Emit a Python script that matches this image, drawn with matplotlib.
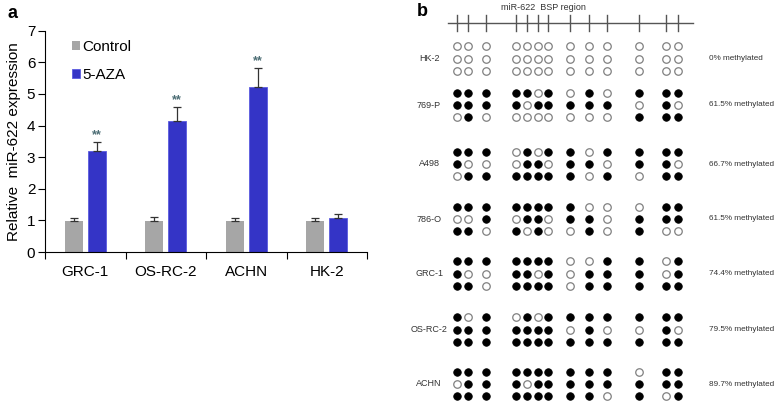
import numpy as np
import matplotlib
matplotlib.use("Agg")
import matplotlib.pyplot as plt

plt.rcParams['font.family'] = ['Liberation Sans', 'DejaVu Sans']

# ---- panel a data ----
cell_lines = ['GRC-1', 'OS-RC-2', 'ACHN', 'HK-2']
control = [0.98, 0.98, 0.98, 0.98]
control_err = [0.09, 0.12, 0.09, 0.09]
aza = [3.18, 4.15, 5.22, 1.08]
aza_err = [0.30, 0.44, 0.61, 0.12]
signif = ['**', '**', '**', '']

# ---- panel b data ----
samples = ['HK-2', '769-P', 'A498', '786-O', 'GRC-1', 'OS-RC-2', 'ACHN']
pct_labels = ['0% methylated', '61.5% methylated', '66.7% methylated',
              '61.5% methylated', '74.4% methylated', '79.5% methylated',
              '89.7% methylated']
# CpG site positions along the BSP region (relative units)
cpg_sites = [0, 11, 29, 59, 70, 81, 91, 113, 132, 150, 182, 209, 221]
# 1 = methylated (filled), 0 = unmethylated (open); three clones per sample
patterns = {
    'HK-2':    ['0000000000000', '0000000000000', '0000000000000'],
    '769-P':   ['1111101010111', '1111011111010', '0100000000111'],
    'A498':    ['1110101101111', '1000110110110', '0111111101011'],
    '786-O':   ['1111111100011', '0010110110111', '1101010010100'],
    'GRC-1':   ['1111111001101', '1001101011101', '1101111011111'],
    'OS-RC-2': ['1010101111111', '1111111010010', '1111111111111'],
    'ACHN':    ['1111111111011', '0111011111111', '1111111110101'],
}

fig = plt.figure(figsize=(7.8, 4.04), dpi=100)

# ================= panel a =================
ax = fig.add_axes([45/780, 1 - 252/404, (367-45)/780, (252-30.7)/404])
x = np.arange(len(cell_lines))
w = 0.228
off = 0.143
ax.bar(x - off, control, w, color='#a6a6a6', zorder=2)
ax.bar(x + off, aza, w, color='#3434c6', edgecolor='#5a5ae0', linewidth=0.6, zorder=2)
ax.errorbar(x - off, control, yerr=[np.zeros(4), control_err], fmt='none',
            ecolor='#333333', elinewidth=0.9, capsize=3, capthick=0.9, zorder=3)
ax.errorbar(x + off, aza, yerr=[np.zeros(4), aza_err], fmt='none',
            ecolor='#333333', elinewidth=0.9, capsize=3, capthick=0.9, zorder=3)
for i, s in enumerate(signif):
    if s:
        ax.text(x[i] + off, aza[i] + aza_err[i] + 0.02, s, ha='center', va='bottom',
                fontsize=9, color='#4d6e75', fontweight='bold')

ax.set_xlim(-0.5, 3.5)
ax.set_ylim(0, 7)
ax.set_yticks(range(0, 8))
ax.tick_params(axis='y', labelsize=11, length=5, width=0.8, pad=2)
ax.set_xticks(x)
ax.set_xticklabels(cell_lines, fontsize=11)
ax.tick_params(axis='x', which='major', length=0, pad=9)
ax.set_xticks(np.arange(-0.5, 4.0, 1.0), minor=True)
ax.tick_params(axis='x', which='minor', length=5, width=0.8)
for sp in ['top', 'right']:
    ax.spines[sp].set_visible(False)
for sp in ['left', 'bottom']:
    ax.spines[sp].set_linewidth(0.8)
ax.set_ylabel('Relative  miR-622 expression', fontsize=11, labelpad=4)

leg = ax.legend(['Control', '5-AZA'], loc='upper left', bbox_to_anchor=(0.065, 0.985),
                frameon=False, fontsize=11, handlelength=0.55, handleheight=0.55,
                handletextpad=0.15, labelspacing=0.9, borderaxespad=0)
fig.text(8/780, 1 - 13/404, 'a', fontsize=13, fontweight='bold', va='center')

# ================= panel b =================
bx = fig.add_axes([400/780, 0, 380/780, 1])
bx.set_xlim(400, 780)
bx.set_ylim(404, 0)
bx.axis('off')

x0 = 457
sample_y = [58.5, 105, 164, 219, 273.5, 329.5, 384]
row_gap = 12.2
sites_x = [x0 + s for s in cpg_sites]

bx.plot([448, 693], [22.5, 22.5], color='#555555', lw=1.0)
for sx in sites_x:
    bx.plot([sx, sx], [15, 31], color='#555555', lw=1.0)
bx.text(543, 7, 'miR-622  BSP region', ha='center', va='center', fontsize=6.5, color='#333333')
fig.text(417/780, 1 - 12/404, 'b', fontsize=13, fontweight='bold', va='center')

for si, name in enumerate(samples):
    yc = sample_y[si]
    for r, row in enumerate(patterns[name]):
        yy = yc + (r - 1) * row_gap
        for k, c in enumerate(row):
            if c == '1':
                bx.plot(sites_x[k], yy, 'o', ms=5.4, mfc='black', mec='black', mew=0.6)
            else:
                bx.plot(sites_x[k], yy, 'o', ms=5.4, mfc='white', mec='#808080', mew=0.9)
    bx.text(429, yc, name, ha='center', va='center', fontsize=6.5, color='#333333')
    bx.text(709, yc, pct_labels[si], ha='left', va='center', fontsize=5.9, color='#333333')

fig.savefig('out.png', dpi=100)
